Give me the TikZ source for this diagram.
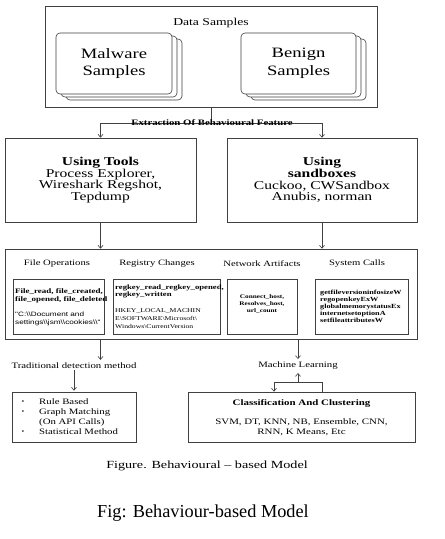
\documentclass[tikz,border=0pt]{standalone}
\usepackage{fontspec}
\setmainfont[FakeStretch=1.3]{Liberation Serif}
\newfontfamily\capfont{Liberation Serif}
\newfontfamily\sanswide[FakeStretch=1.3]{Liberation Sans}
\usetikzlibrary{arrows.meta}
\newcommand{\fsz}[2]{\fontsize{#1}{#2}\selectfont}
\begin{document}
\begin{tikzpicture}[x=1pt,y=-1pt,
  line/.style={draw=black!75, line width=0.6pt},
  arr/.style={line, -{Straight Barb[length=3pt,width=5pt]}},
  box/.style={line, inner sep=0pt, anchor=center},
  stack/.style={box, rounded corners=4pt, fill=white, minimum height=61pt, align=center, font=\fsz{14.3}{17.5}},
  lbl/.style={inner sep=0pt, align=center},
  lft/.style={inner sep=0pt, anchor=west, align=left},
]
\fill[white] (0,0) rectangle (445,539);
\useasboundingbox (0,0) rectangle (445,539);

% Data samples
\node[box, minimum width=332pt, minimum height=101pt] (data) at (211,56.5) {};
\node[lbl, font=\fsz{10.5}{12}] (datat) at (211,23) {Data Samples};
\node[stack, minimum width=116pt] (malb2) at (124,69.5) {};
\node[stack, minimum width=116pt] (malb1) at (119,66.5) {};
\node[stack, minimum width=116pt] (mal) at (114,63.5) {Malware\\Samples};
\node[stack, minimum width=115pt] (benb2) at (308.5,69.5) {};
\node[stack, minimum width=115pt] (benb1) at (303.5,66.5) {};
\node[stack, minimum width=115pt] (ben) at (298.5,63.5) {Benign\\Samples};

% Extraction
\node[box, minimum width=191pt, minimum height=84pt, align=center, font=\fsz{12}{11.7}] (tools) at (100.5,180) {\textbf{Using Tools}\\Process Explorer,\\Wireshark Regshot,\\Tepdump};
\node[box, minimum width=190pt, minimum height=84pt, align=center, font=\fsz{12}{11.7}] (sand) at (322,180) {\textbf{Using}\\\textbf{sandboxes}\\Cuckoo, CWSandbox\\Anubis, norman};
\coordinate (split) at (211,123);
\draw[line] (data.south) -- (split);
\draw[arr] (split) -| (tools.north);
\draw[arr] (split) -| (sand.north);
\node[lbl, font=\bfseries\fsz{8.3}{9}] (extr) at (212,123) {Extraction Of Behavioural Feature};

% Feature box
\node[box, minimum width=412pt, minimum height=90pt] (big) at (211,294) {};
\draw[arr] (tools.south) -- (tools.south |- big.north);
\draw[arr] (sand.south) -- (sand.south |- big.north);

\node[lbl, font=\fsz{8.2}{10}] (hfile) at (57,264) {File Operations};
\node[lbl, font=\fsz{8.2}{10}] (hreg) at (157,264) {Registry Changes};
\node[lbl, font=\fsz{8.2}{10}] (hnet) at (262,264) {Network Artifacts};
\node[lbl, font=\fsz{8.2}{10}] (hsys) at (357,264) {System Calls};

\node[box, minimum width=91pt, minimum height=55pt] (fbox) at (58.5,306.5) {};
\node[box, minimum width=107pt, minimum height=55pt] (rbox) at (166.5,306.5) {};
\node[box, minimum width=70pt, minimum height=55pt] (nbox) at (262,306.5) {};
\node[box, minimum width=93pt, minimum height=55pt] (sbox) at (361.5,306.5) {};

\node[lft, font=\bfseries\fsz{6.9}{7.6}] (ft1) at (15,295.5) {File\_read, file\_created,\\file\_opened, file\_deleted};
\node[lft, font=\sanswide\fsz{6.3}{8}] (ft2) at (15,319) {"C:\textbackslash\textbackslash Document and\\settings\textbackslash\textbackslash jsm\textbackslash\textbackslash cookies\textbackslash\textbackslash"};
\node[lft, font=\bfseries\fsz{6.7}{7.4}] (rt1) at (115,291.5) {regkey\_read\_regkey\_opened,\\regkey\_written};
\node[lft, font=\fsz{5.9}{8}] (rt2) at (115,319) {HKEY\_LOCAL\_MACHIN\\E\textbackslash SOFTWARE\textbackslash Microsoft\textbackslash\\Windows\textbackslash CurrentVersion};
\node[lbl, font=\bfseries\fsz{5.6}{7}] (nt) at (262,304) {Connect\_host,\\Resolves\_host,\\url\_count};
\node[lft, font=\bfseries\fsz{6.3}{7}] (st) at (320,306) {getfileversioninfosizeW\\regopenkeyExW\\globalmemorystatusEx\\internetsetoptionA\\setfileattributesW};

% Traditional
\node[lbl, font=\fsz{8.3}{10}] (trad) at (74,366) {Traditional detection method};
\draw[arr, shorten >=3pt] (big.south -| tools.south) -- (tools.south |- trad.north);
\node[box, minimum width=124pt, minimum height=50pt] (tbox) at (74,417) {};
\draw[arr, shorten <=1pt, shorten >=1pt] (trad.south) -- (tbox.north);
\node[lbl, font=\fsz{6}{10}] (b1) at (23,402) {\textbullet};
\node[lbl, font=\fsz{6}{10}] (b2) at (23,412) {\textbullet};
\node[lbl, font=\fsz{6}{10}] (b3) at (23,432) {\textbullet};
\node[lft, font=\fsz{8.3}{10}] (tl) at (39,417) {Rule Based\\Graph Matching\\(On API Calls)\\Statistical Method};

% Machine learning
\node[lbl, font=\fsz{8.3}{10}] (ml) at (298,366) {Machine Learning};
\draw[arr, shorten >=3pt] (big.south -| ml) -- (ml.north);
\node[box, minimum width=227pt, minimum height=50pt] (cbox) at (301.5,417) {};
\coordinate (lj) at (274,382);
\coordinate (rj) at (322,382);
\draw[line] (cbox.north -| rj) -- (rj) -- (lj);
\draw[arr] (lj) -- (lj |- cbox.north);
\draw[arr, shorten >=3pt] (ml.south |- lj) -- (ml.south);
\node[lbl, font=\bfseries\fsz{8.4}{10}] (ct) at (301.5,403) {Classification And Clustering};
\node[lbl, font=\fsz{8.4}{9.7}] (cl) at (301.5,427.5) {SVM, DT, KNN, NB, Ensemble, CNN,\\RNN, K Means, Etc};

% Captions
\node[lbl, font=\fsz{10.9}{13}] (cap1) at (207,466) {Figure. Behavioural – based Model};
\node[lbl, font=\capfont\fsz{18.3}{20}] (cap2) at (203,513) {Fig: Behaviour-based Model};
\end{tikzpicture}
\end{document}
